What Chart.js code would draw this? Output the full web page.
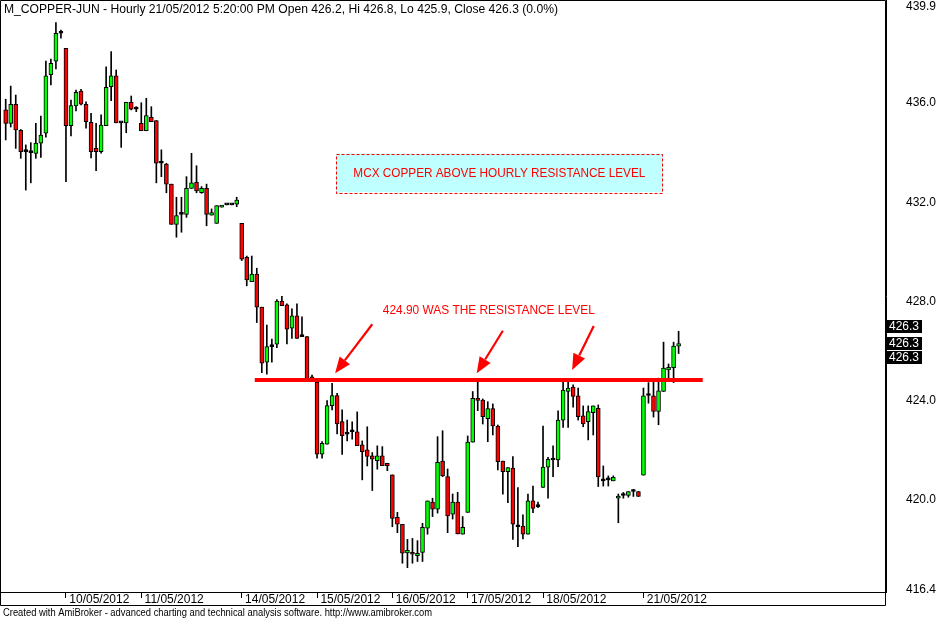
<!DOCTYPE html>
<html><head><meta charset="utf-8">
<script src="https://cdn.jsdelivr.net/npm/chart.js@4.4.1/dist/chart.umd.min.js"></script>
<style>html,body{margin:0;padding:0;background:#fff;}canvas{display:block;}</style>
</head><body>
<canvas id="c" width="946" height="618"></canvas>
<script>
// ---- hourly candles ----
const opens = [435.72,435.18,435.95,434.90,434.04,434.00,433.97,434.38,434.78,437.14,437.68,438.81,438.20,435.08,435.88,436.48,435.95,435.22,434.17,434.04,
435.08,436.66,437.09,435.20,435.20,436.03,435.75,435.18,434.88,435.42,435.29,433.57,433.54,432.73,431.11,431.51,431.51,432.56,432.80,432.38,
432.56,431.48,431.15,431.80,431.89,431.89,431.92,431.15,429.78,428.80,429.10,427.77,425.55,426.18,426.28,428.02,427.86,426.92,427.42,426.58,
426.58,424.93,424.75,421.85,422.25,423.80,424.21,423.16,422.65,422.75,422.75,422.22,422.02,421.78,421.58,421.78,421.48,421.01,419.30,419.02,
417.87,417.89,417.75,417.89,418.86,419.91,419.63,421.57,420.94,419.43,419.91,418.62,419.50,422.33,424.10,424.03,423.28,423.68,422.98,421.57,
421.14,421.28,418.92,418.95,418.62,419.96,419.73,420.51,421.32,421.61,421.61,423.22,424.37,424.55,424.20,423.39,423.16,423.52,423.69,420.77,
420.81,420.77,420.07,420.18,420.18,420.34,420.34,421.00,424.21,424.20,423.57,424.37,425.24,425.33,426.20];
const highs = [436.15,436.68,436.32,434.93,434.31,434.40,435.18,435.47,437.69,437.77,439.24,438.94,438.20,436.12,436.52,436.55,436.05,435.58,435.18,435.52,
437.46,438.07,437.33,435.20,436.03,436.28,435.85,436.01,436.19,435.85,435.29,434.11,433.57,432.73,432.20,432.20,433.03,433.97,433.47,432.63,
432.73,431.73,431.86,431.86,431.89,431.89,432.20,431.15,429.83,429.83,429.34,427.77,427.05,426.48,428.08,428.21,427.90,427.70,427.90,427.38,
426.58,425.03,424.75,422.35,424.00,424.70,424.30,423.63,423.22,423.15,423.55,422.38,422.95,421.91,422.18,422.15,421.48,421.01,419.50,419.02,
418.41,418.45,418.36,419.06,419.96,420.07,422.55,422.79,421.25,420.24,420.31,419.33,422.58,424.37,424.88,424.07,423.96,423.87,423.02,421.57,
421.30,421.75,420.50,419.40,420.24,420.56,419.91,422.98,421.72,422.18,423.59,424.84,424.84,424.64,424.51,423.79,423.79,423.79,423.83,421.37,
420.97,420.97,420.24,420.30,420.34,420.43,420.34,424.51,424.73,424.84,424.91,426.36,425.48,426.36,426.80];
const lows = [434.51,435.03,434.17,433.77,432.49,432.78,433.77,433.81,434.62,436.73,437.37,438.61,432.83,434.67,435.68,435.92,434.98,433.79,433.27,433.98,
435.08,436.09,435.20,434.21,434.80,435.72,435.65,434.88,434.88,435.25,432.78,433.03,432.38,431.11,430.59,430.79,431.39,432.56,432.38,432.36,
431.05,431.48,431.15,431.80,431.89,431.89,431.82,429.65,428.63,428.80,427.15,425.13,425.07,425.55,426.14,427.83,426.29,426.51,426.51,426.58,
424.88,424.78,421.68,421.68,422.25,423.63,422.66,421.84,422.38,422.45,422.19,420.81,421.37,420.38,421.24,421.38,421.18,418.92,418.68,417.45,
417.27,417.45,417.52,417.52,418.62,419.33,419.47,420.94,418.68,419.23,418.63,418.62,419.50,422.33,423.60,423.06,422.35,422.62,421.21,420.23,
419.89,418.41,418.12,418.43,418.62,419.49,419.69,420.51,420.07,420.94,421.34,422.92,422.92,423.74,423.22,422.95,422.42,422.62,420.54,420.56,
420.56,420.77,419.08,420.07,420.11,420.14,420.14,421.00,423.90,423.34,423.03,424.37,424.91,424.73,425.90];
const closes = [435.18,435.95,434.91,434.04,434.04,434.00,434.38,434.71,437.09,437.60,438.81,438.81,435.08,435.89,436.43,435.95,435.25,434.04,434.04,435.11,
436.63,437.09,435.20,435.20,436.03,435.75,435.75,434.88,435.49,435.25,433.57,433.57,432.73,431.11,431.46,431.51,432.56,432.78,432.46,432.56,
431.51,431.58,431.86,431.86,431.89,431.89,432.09,429.70,428.87,429.10,427.77,425.51,426.18,426.18,428.02,427.83,426.88,427.42,426.51,426.58,
424.88,424.88,421.85,422.28,423.80,424.21,423.06,422.59,422.65,422.75,422.19,421.95,421.75,421.64,421.78,421.38,421.38,419.26,419.02,417.85,
417.97,417.81,417.85,418.90,419.96,419.63,421.52,420.97,419.36,419.91,418.63,418.90,422.33,424.10,424.01,423.36,423.68,422.98,421.54,421.14,
421.30,419.02,418.92,418.62,419.96,419.66,419.73,421.32,421.64,421.61,423.22,424.43,424.51,424.17,423.36,423.06,423.56,423.79,420.93,420.77,
420.81,420.91,420.16,420.18,420.34,420.34,420.14,424.20,424.21,423.57,424.40,425.31,425.35,426.20,426.30];

// ---- axes ----
const dayStartBars = [12,27,47,62,77,92,107,127];
const dayLabels = ['10/05/2012','11/05/2012','14/05/2012','15/05/2012','16/05/2012','17/05/2012','18/05/2012','21/05/2012'];
const priceTicks = [416.4,420,424,428,432,436,439.9];
const priceMin = 416.29, priceMax = 440.15;
const barMin = -1.135, barMax = 175.3;

// ---- annotations (bar index / price units) ----
const resistanceLevel = 424.83;
const resistanceBars = [49.6, 138.8];
const arrowTails = [[73.0,427.08],[99.0,426.82],[117.1,427.01]];
const arrowTips  = [[65.6,425.11],[93.8,425.11],[112.8,425.24]];
const noteText = '424.90 WAS THE RESISTANCE LEVEL';
const noteAt = [75.1, 427.68];
const boxText = 'MCX COPPER ABOVE HOURLY RESISTANCE LEVEL';
const boxBars = [65.8, 130.8], boxPrices = [433.96, 432.40];
const lastValue = 426.3;
const lastValueLabels = ['426.3','426.3','426.3'];
const titleText = 'M_COPPER-JUN - Hourly 21/05/2012 5:20:00 PM Open 426.2, Hi 426.8, Lo 425.9, Close 426.3 (0.0%)';
const footerText = 'Created with AmiBroker - advanced charting and technical analysis software. http://www.amibroker.com';

const FONT = '"Liberation Sans", Arial, sans-serif';
const idx = opens.map((_, i) => i);
const bodyData = idx.map(i => ({x: i, y: [Math.min(opens[i], closes[i]), Math.max(opens[i], closes[i])]}));
const wickData = idx.map(i => ({x: i, y: [lows[i], highs[i]]}));
const bodyColors = idx.map(i => closes[i] > opens[i] ? '#00ff00' : (closes[i] < opens[i] ? '#ff0000' : '#000000'));

function fitText(ctx, text, x, y, width, font, color, align) {
  ctx.save();
  ctx.font = font;
  const w = ctx.measureText(text).width;
  const s = width / w;
  let x0 = x;
  if (align === 'center') x0 = x - width / 2;
  ctx.translate(x0, y);
  ctx.scale(s, 1);
  ctx.fillStyle = color;
  ctx.textAlign = 'left';
  ctx.textBaseline = 'alphabetic';
  ctx.fillText(text, 0, 0);
  ctx.restore();
}
function drawArrow(ctx, x1, y1, x2, y2) {
  const a = Math.atan2(y2 - y1, x2 - x1), hl = 16, hw = 6.5;
  const bx = x2 - hl * Math.cos(a), by = y2 - hl * Math.sin(a);
  ctx.beginPath(); ctx.moveTo(x1, y1); ctx.lineTo(bx, by); ctx.stroke();
  ctx.beginPath(); ctx.moveTo(x2, y2);
  ctx.lineTo(bx + hw * Math.sin(a), by - hw * Math.cos(a));
  ctx.lineTo(bx - hw * Math.sin(a), by + hw * Math.cos(a));
  ctx.closePath(); ctx.fill();
}

const annotations = {
  id: 'annotations',
  afterDatasetsDraw(chart) {
    const ctx = chart.ctx, xs = chart.scales.x, ys = chart.scales.y;
    const px = v => xs.getPixelForValue(v), py = v => ys.getPixelForValue(v);
    ctx.save();
    const bx0 = px(boxBars[0]), bx1 = px(boxBars[1]), by0 = py(boxPrices[0]), by1 = py(boxPrices[1]);
    ctx.fillStyle = '#c0ffff';
    ctx.fillRect(bx0, by0, bx1 - bx0, by1 - by0);
    ctx.strokeStyle = '#ff0000'; ctx.lineWidth = 1; ctx.setLineDash([3, 2]);
    ctx.strokeRect(Math.round(bx0) + 0.5, Math.round(by0) + 0.5, Math.round(bx1 - bx0), Math.round(by1 - by0));
    ctx.setLineDash([]);
    fitText(ctx, boxText, (bx0 + bx1) / 2, (by0 + by1) / 2 + 4.5, 292, '13px ' + FONT, '#ff0000', 'center');
    fitText(ctx, noteText, px(noteAt[0]), py(noteAt[1]) + 5, 212, '13px ' + FONT, '#ff0000', 'left');
    ctx.strokeStyle = '#ff0000'; ctx.fillStyle = '#ff0000'; ctx.lineWidth = 2.2;
    for (let k = 0; k < arrowTails.length; k++) {
      drawArrow(ctx, px(arrowTails[k][0]), py(arrowTails[k][1]), px(arrowTips[k][0]), py(arrowTips[k][1]));
    }
    ctx.restore();
  },
  afterDraw(chart) {
    const ctx = chart.ctx, ys = chart.scales.y, ca = chart.chartArea;
    ctx.save();
    ctx.strokeStyle = '#000'; ctx.lineWidth = 1;
    const fb = 605.5, right = Math.round(ca.right) - 0.5;
    ctx.beginPath();
    ctx.moveTo(0.5, 0.5); ctx.lineTo(right, 0.5); ctx.lineTo(right, fb); ctx.lineTo(0.5, fb); ctx.closePath();
    ctx.stroke();
    const p = ys.getPixelForValue(lastValue);
    const offs = [-17, 0, 14];
    ctx.font = '12px ' + FONT; ctx.textAlign = 'left'; ctx.textBaseline = 'middle';
    for (let k = 0; k < lastValueLabels.length; k++) {
      const cy = p + offs[k];
      ctx.fillStyle = '#000';
      ctx.fillRect(ca.right + 1, Math.round(cy - 6.5), 35, 13);
      ctx.fillStyle = '#fff';
      ctx.fillText(lastValueLabels[k], ca.right + 3, cy + 0.5);
    }
    fitText(ctx, titleText, 4, 13, 554, '12px ' + FONT, '#000', 'left');
    fitText(ctx, footerText, 3, 616, 429, '10px ' + FONT, '#000', 'left');
    ctx.restore();
  }
};

new Chart(document.getElementById('c'), {
  type: 'bar',
  data: {
    datasets: [
      {type: 'line', data: resistanceBars.map(b => ({x: b, y: resistanceLevel})), borderColor: '#ff0000',
       borderWidth: 4, pointRadius: 0, borderCapStyle: 'butt', order: 0},
      {type: 'bar', data: bodyData, backgroundColor: bodyColors, borderColor: '#000', borderWidth: 1,
       borderSkipped: false, barThickness: 4, minBarLength: 2, grouped: false, order: 1},
      {type: 'bar', data: wickData, backgroundColor: '#000', borderWidth: 0, barThickness: 1, grouped: false, order: 2}
    ]
  },
  options: {
    responsive: false, animation: false, devicePixelRatio: 1, events: [],
    layout: {padding: 0},
    plugins: {legend: {display: false}, tooltip: {enabled: false}, title: {display: false}},
    scales: {
      x: {
        type: 'linear', min: barMin, max: barMax, offset: false,
        afterBuildTicks: s => { s.ticks = dayStartBars.map(v => ({value: v})); },
        afterFit: s => { s.height = 26; s.paddingLeft = 0; s.paddingRight = 0; },
        grid: {display: true, drawOnChartArea: false, drawTicks: true, tickLength: 6, color: '#000', tickColor: '#000', offset: false},
        border: {display: true, color: '#000'},
        ticks: {autoSkip: false, maxRotation: 0, minRotation: 0, align: 'start', padding: -6, color: '#000',
                font: {family: FONT, size: 12}, callback: (v, i) => ' ' + dayLabels[i]}
      },
      y: {
        type: 'linear', position: 'right', min: priceMin, max: priceMax,
        afterBuildTicks: s => { s.ticks = priceTicks.map(v => ({value: v})); },
        afterFit: s => { s.width = 60; s.paddingTop = 0; s.paddingBottom = 0; },
        grid: {drawOnChartArea: false, drawTicks: false},
        border: {display: true, color: '#000'},
        ticks: {padding: 20, color: '#000', font: {family: FONT, size: 12}, callback: v => Number(v).toFixed(1)}
      }
    }
  },
  plugins: [annotations]
});
</script>
</body></html>
